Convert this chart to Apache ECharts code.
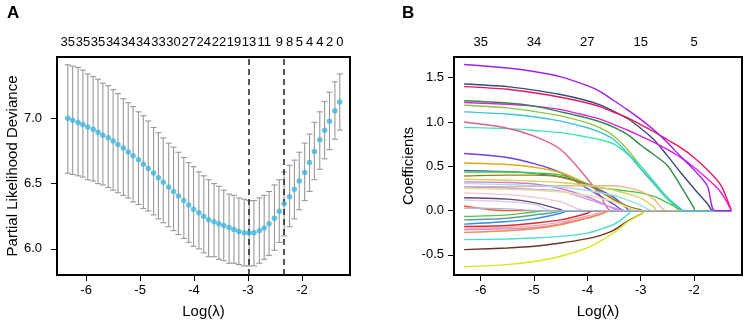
<!DOCTYPE html>
<html>
<head>
<meta charset="utf-8">
<script src="https://cdn.jsdelivr.net/npm/echarts@6/dist/echarts.min.js"></script>
<style>
  html, body { margin: 0; padding: 0; background: #fff; }
  #main { width: 744px; height: 324px; }
</style>
</head>
<body>
<div id="main"></div>
<script>
// ---- panel A : cross-validation curve ----
const lamA = [-6.34, -6.25, -6.15, -6.06, -5.97, -5.87, -5.78, -5.69, -5.59, -5.50,
  -5.41, -5.31, -5.22, -5.13, -5.03, -4.94, -4.85, -4.75, -4.66, -4.57,
  -4.47, -4.38, -4.29, -4.19, -4.10, -4.01, -3.91, -3.82, -3.73, -3.63,
  -3.54, -3.45, -3.35, -3.26, -3.17, -3.07, -2.98, -2.89, -2.79, -2.70,
  -2.61, -2.51, -2.42, -2.33, -2.23, -2.14, -2.05, -1.95, -1.86, -1.77,
  -1.67, -1.58, -1.49, -1.39, -1.30];
const cvMean = [7.00, 6.985, 6.969, 6.952, 6.934, 6.916, 6.894, 6.871, 6.851, 6.826,
  6.800, 6.773, 6.742, 6.714, 6.682, 6.649, 6.616, 6.581, 6.545, 6.510,
  6.474, 6.440, 6.406, 6.371, 6.337, 6.304, 6.277, 6.249, 6.223, 6.207,
  6.192, 6.179, 6.164, 6.149, 6.134, 6.123, 6.121, 6.123, 6.139, 6.161,
  6.192, 6.235, 6.288, 6.346, 6.399, 6.457, 6.520, 6.586, 6.661, 6.747,
  6.836, 6.909, 6.977, 7.058, 7.126];
const cvUp = [7.41, 7.40, 7.39, 7.37, 7.34, 7.32, 7.30, 7.27, 7.25, 7.22,
  7.19, 7.15, 7.12, 7.09, 7.05, 7.02, 6.98, 6.93, 6.89, 6.85,
  6.81, 6.78, 6.74, 6.70, 6.66, 6.63, 6.59, 6.56, 6.53, 6.50,
  6.48, 6.45, 6.42, 6.41, 6.39, 6.38, 6.37, 6.37, 6.39, 6.41,
  6.44, 6.49, 6.53, 6.59, 6.64, 6.68, 6.74, 6.81, 6.88, 6.97,
  7.05, 7.13, 7.20, 7.28, 7.34];
const cvLo = [6.58, 6.57, 6.56, 6.55, 6.53, 6.52, 6.50, 6.49, 6.47, 6.45,
  6.43, 6.41, 6.39, 6.36, 6.34, 6.31, 6.29, 6.26, 6.23, 6.20,
  6.17, 6.14, 6.11, 6.08, 6.05, 6.02, 6.00, 5.97, 5.94, 5.94,
  5.92, 5.91, 5.89, 5.89, 5.88, 5.87, 5.87, 5.87, 5.89, 5.92,
  5.95, 5.99, 6.05, 6.10, 6.17, 6.23, 6.30, 6.37, 6.44, 6.53,
  6.61, 6.69, 6.76, 6.84, 6.91];
const lamMin = -2.98;
const lam1se = -2.33;
// number of nonzero coefficients shown on top axis
const dfLamA = [-6.34, -6.06, -5.78, -5.50, -5.22, -4.94, -4.66, -4.38, -4.10, -3.82,
  -3.54, -3.26, -2.98, -2.70, -2.42, -2.23, -2.05, -1.86, -1.67, -1.49, -1.30];
const dfLabA = [35, 35, 35, 34, 34, 34, 33, 30, 27, 24, 22, 19, 13, 11, 9, 8, 5, 4, 4, 2, 0];
const xTicks = [-6, -5, -4, -3, -2];
const yTicksA = [6.0, 6.5, 7.0];

// ---- panel B : coefficient paths ----
const lamB = [-6.31, -5.5, -5, -4.5, -4, -3.75, -3.5, -3.25, -3, -2.75, -2.5, -2.25, -2, -1.75, -1.5];
const lamEndB = -1.30;
const dfLamB = [-6, -5, -4, -3, -2];
const dfLabB = [35, 34, 27, 15, 5];
const yTicksB = [-0.5, 0, 0.5, 1.0, 1.5];
// coefficient values at lamB until the path reaches zero
const coefVals = [
  [1.43, 1.40, 1.36, 1.31, 1.24, 1.19, 1.12, 1.04, 0.93, 0.80, 0.62, 0.43, 0.25, 0.08],
  [1.40, 1.37, 1.33, 1.28, 1.215, 1.17, 1.11, 1.05, 0.97, 0.89, 0.80, 0.71, 0.60, 0.46, 0.29],
  [1.22, 1.20, 1.18, 1.14, 1.07, 1.03, 0.97, 0.91, 0.84, 0.77, 0.69, 0.60, 0.49, 0.36, 0.21],
  [1.24, 1.215, 1.18, 1.115, 1.045, 1.00, 0.94, 0.86, 0.74, 0.63, 0.51, 0.28, 0.03],
  [1.19, 1.16, 1.12, 1.07, 0.99, 0.93, 0.84, 0.69, 0.50, 0.32, 0.15],
  [0.94, 0.925, 0.905, 0.88, 0.83, 0.80, 0.75, 0.64, 0.50, 0.33, 0.15, 0.02],
  [1.00, 0.93, 0.84, 0.69, 0.36, 0.16],
  [0.645, 0.60, 0.53, 0.43, 0.25, 0.16, 0.07],
  [0.537, 0.52, 0.49, 0.43, 0.30, 0.22, 0.13, 0.05],
  [0.454, 0.44, 0.42, 0.38, 0.30, 0.23, 0.15, 0.02],
  [0.436, 0.436, 0.425, 0.40, 0.30, 0.26, 0.24, 0.22, 0.20, 0.16, 0.09, 0.01],
  [0.39, 0.40, 0.40, 0.38, 0.29, 0.21, 0.12, 0.05, 0.01],
  [0.354, 0.343, 0.332, 0.317, 0.287, 0.26, 0.23, 0.19, 0.14, 0.04],
  [0.27, 0.27, 0.275, 0.28, 0.28, 0.28, 0.28, 0.26, 0.22, 0.13],
  [0.324, 0.317, 0.30, 0.25, 0.156, 0.09, 0.02],
  [0.305, 0.295, 0.28, 0.265, 0.23, 0.20, 0.17, 0.12, 0.06],
  [0.268, 0.255, 0.24, 0.22, 0.13, 0.08, 0.03],
  [0.249, 0.24, 0.23, 0.21, 0.17, 0.14, 0.10, 0.04],
  [0.20, 0.18, 0.15, 0.10],
  [0.145, 0.13, 0.09, 0.01],
  [0.119, 0.10, 0.07],
  [0.052],
  [-0.067, -0.048, -0.015],
  [-0.105, -0.086, -0.05, -0.005],
  [-0.153, -0.123, -0.094, -0.03],
  [-0.179, -0.168, -0.142, -0.105, -0.03],
  [-0.198, -0.19, -0.17, -0.13, -0.06, -0.02],
  [-0.217, -0.205, -0.19, -0.15, -0.08, -0.04],
  [-0.246, -0.228, -0.205, -0.16, -0.086, -0.04],
  [-0.328, -0.321, -0.31, -0.291, -0.254, -0.21, -0.155, -0.05],
  [-0.44, -0.422, -0.403, -0.366, -0.317, -0.28, -0.22, -0.12, -0.04],
  [-0.634, -0.61, -0.575, -0.515, -0.42, -0.34, -0.25, -0.13, -0.04],
  [0.03, 0.02],
  [1.115, 1.09, 1.06, 1.01, 0.935, 0.88, 0.80, 0.65, 0.47, 0.30, 0.13, 0.02],
  [1.65, 1.61, 1.57, 1.51, 1.41, 1.34, 1.24, 1.14, 1.03, 0.91, 0.77, 0.61, 0.46, 0.28]
];
// log(lambda) where each path becomes zero
const coefZero = [-1.64, -1.30, -1.30, -1.98, -2.24, -2.20, -3.55, -3.30, -3.15, -3.22,
  -2.22, -2.97, -2.70, -2.52, -3.42, -2.78, -3.30, -3.05, -4.05, -4.45,
  -4.65, -5.55, -4.70, -4.55, -4.35, -3.90, -3.70, -3.60, -3.55, -3.15,
  -2.90, -2.90, -4.90, -2.22, -1.61];

const pathColors = ['#3a4a78', '#e8175d', '#e41ee4', '#2e8b4a', '#8cc63f', '#3be8a8', '#e0608a',
  '#7040e0', '#e0a818', '#4a62d8', '#3ccc3c', '#9a7d1a', '#d8d35a', '#f0b48a', '#d874dc',
  '#9fe0e8', '#c09cf0', '#e8e0a0', '#f2c4d4', '#5a4a7a', '#e2cce6', '#ff5a1e',
  '#52c452', '#5f9e98', '#2e8ee8', '#e02828', '#f0a8b8', '#d890c8', '#f08a4a', '#48e0cc',
  '#6a3424', '#d4e81a', '#a8b4dc', '#3ec1e0', '#a020f0'];

const font = 'Liberation Sans, Arial, sans-serif';
const chart = echarts.init(document.getElementById('main'));

function nearestLabel(pos, labs, v) {
  let best = 0;
  pos.forEach((p, i) => { if (Math.abs(p - v) < Math.abs(pos[best] - v)) best = i; });
  return String(labs[best]);
}

const pathSeries = coefVals.map((vals, k) => {
  const data = vals.map((v, i) => [lamB[i], v]);
  data.push([coefZero[k], 0]);
  data.push([lamEndB, 0]);
  return {
    type: 'line',
    xAxisIndex: 2,
    yAxisIndex: 1,
    data: data,
    smooth: 0.3,
    showSymbol: false,
    symbol: 'none',
    lineStyle: { color: pathColors[k], width: 1.4 },
    silent: true
  };
});

const bottomAxis = (grid, min, max, ticks) => ({
  gridIndex: grid, type: 'value', min: min, max: max, position: 'bottom',
  axisLine: { show: false, onZero: false }, splitLine: { show: false },
  axisTick: { show: true, customValues: ticks, length: 6, lineStyle: { color: '#000', width: 1 } },
  axisLabel: { customValues: ticks, color: '#000', fontSize: 13, fontFamily: font, margin: 9 },
  name: 'Log(λ)', nameLocation: 'middle', nameGap: 29,
  nameTextStyle: { fontSize: 15, color: '#000', fontFamily: font }
});
const topAxis = (grid, min, max, pos, labs) => ({
  gridIndex: grid, type: 'value', min: min, max: max, position: 'top',
  axisLine: { show: false, onZero: false }, splitLine: { show: false }, axisTick: { show: false },
  axisLabel: {
    customValues: pos, color: '#000', fontSize: 13, fontFamily: font, margin: 8,
    formatter: v => nearestLabel(pos, labs, v)
  }
});
const leftAxis = (grid, min, max, ticks, name, gap, margin) => ({
  gridIndex: grid, type: 'value', min: min, max: max,
  axisLine: { show: false, onZero: false }, splitLine: { show: false },
  axisTick: { show: true, customValues: ticks, length: 6, lineStyle: { color: '#000', width: 1 } },
  axisLabel: { customValues: ticks, color: '#000', fontSize: 13, fontFamily: font, margin: margin,
    formatter: v => v.toFixed(1) },
  name: name, nameLocation: 'middle', nameGap: gap, nameRotate: 90,
  nameTextStyle: { fontSize: 15, color: '#000', fontFamily: font }
});

chart.setOption({
  animation: false,
  backgroundColor: '#fff',
  title: [
    { text: 'A', left: 2, top: 0, textStyle: { fontSize: 17, fontWeight: 'bold', color: '#000', fontFamily: font } },
    { text: 'B', left: 397, top: 0, textStyle: { fontSize: 17, fontWeight: 'bold', color: '#000', fontFamily: font } }
  ],
  grid: [
    { left: 57, top: 57, width: 293, height: 220, show: true, borderColor: '#000', borderWidth: 2 },
    { left: 454, top: 57, width: 288, height: 220, show: true, borderColor: '#000', borderWidth: 2 }
  ],
  xAxis: [
    bottomAxis(0, -6.54, -1.11, xTicks),
    topAxis(0, -6.54, -1.11, dfLamA, dfLabA),
    bottomAxis(1, -6.50, -1.10, xTicks),
    topAxis(1, -6.50, -1.10, dfLamB, dfLabB)
  ],
  yAxis: [
    leftAxis(0, 5.80, 7.47, yTicksA, 'Partial Likelihood Deviance', 35, 15),
    leftAxis(1, -0.727, 1.734, yTicksB, 'Coefficients', 38, 10)
  ],
  series: [
    {
      type: 'custom',
      xAxisIndex: 0,
      yAxisIndex: 0,
      data: lamA.map((x, i) => [x, cvLo[i], cvUp[i]]),
      encode: { x: 0, y: [1, 2] },
      silent: true,
      renderItem: function (params, api) {
        const x = api.value(0);
        const lo = api.coord([x, api.value(1)]);
        const hi = api.coord([x, api.value(2)]);
        const w = 3;
        const st = { stroke: '#999', lineWidth: 1.1 };
        return {
          type: 'group',
          children: [
            { type: 'line', shape: { x1: lo[0], y1: lo[1], x2: hi[0], y2: hi[1] }, style: st },
            { type: 'line', shape: { x1: lo[0] - w, y1: lo[1], x2: lo[0] + w, y2: lo[1] }, style: st },
            { type: 'line', shape: { x1: hi[0] - w, y1: hi[1], x2: hi[0] + w, y2: hi[1] }, style: st }
          ]
        };
      }
    },
    {
      type: 'scatter',
      xAxisIndex: 0,
      yAxisIndex: 0,
      data: lamA.map((x, i) => [x, cvMean[i]]),
      symbolSize: 5.5,
      itemStyle: { color: '#3fb5dc' },
      silent: true,
      z: 5,
      markLine: {
        silent: true,
        symbol: ['none', 'none'],
        label: { show: false },
        lineStyle: { type: [6, 4], color: '#222', width: 1.5 },
        data: [{ xAxis: lamMin }, { xAxis: lam1se }]
      }
    }
  ].concat(pathSeries)
});
</script>
</body>
</html>
